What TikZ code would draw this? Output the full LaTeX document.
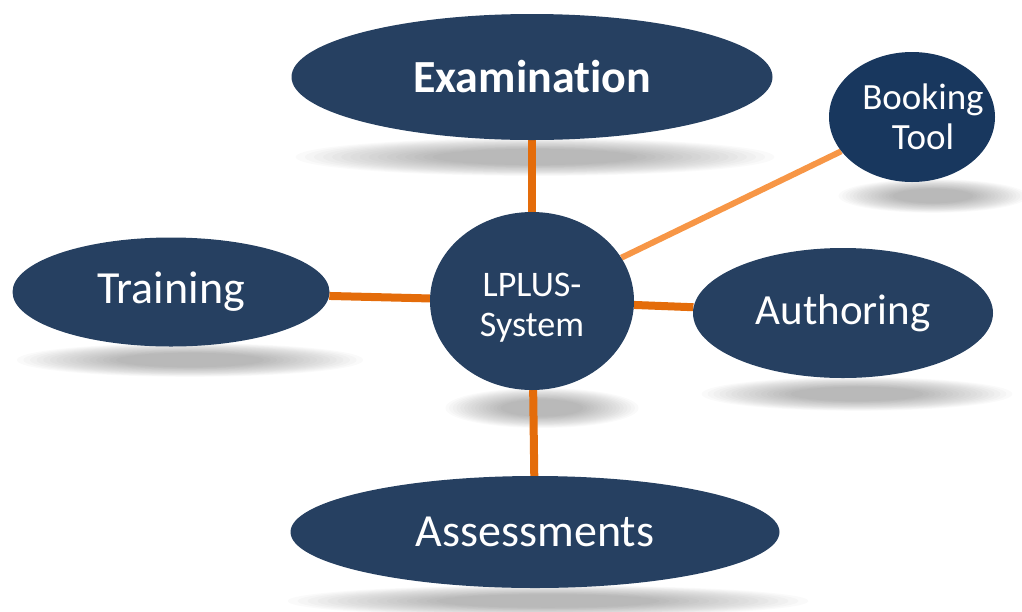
\documentclass[tikz,border=0pt]{standalone}
\usepackage{fontspec}
\setmainfont{Carlito}[RawFeature={-liga;-clig;-calt}]
\pgfdeclarelayer{shadowlayer}
\pgfdeclarelayer{edgelayer}
\pgfsetlayers{shadowlayer,edgelayer,main}
\definecolor{nodeblue}{HTML}{264061}
\definecolor{bookblue}{HTML}{18375E}
\definecolor{edgeorange}{HTML}{E46C0A}
\definecolor{lightorange}{HTML}{F79646}
\newcommand{\softshadow}[4]{%
  \foreach \k in {0,...,15}{%
    \pgfmathsetmacro{\fac}{1.05-0.04*\k}%
    \fill[black, opacity=0.021] (#1pt,#2pt) ellipse [x radius={#3pt*\fac}, y radius={#4pt*\fac}];
  }%
}
\tikzset{
  bubble/.style={ellipse, fill=nodeblue, text=white, inner sep=0pt, align=center},
  link/.style={draw=edgeorange, line width=8pt},
  lightlink/.style={draw=lightorange, line width=6pt},
}
\usetikzlibrary{shapes.geometric}
\begin{document}
\begin{tikzpicture}[x=1pt,y=1pt]
\useasboundingbox (0,0) rectangle (1022,-611);
\begin{pgfonlayer}{shadowlayer}
\softshadow{535}{-157}{228}{18}
\softshadow{933}{-196}{90}{16}
\softshadow{190}{-360}{165}{16}
\softshadow{542}{-408}{92}{19}
\softshadow{857}{-394}{148}{16}
\softshadow{548}{-601}{248}{15}
\end{pgfonlayer}
\node[bubble, minimum width=481pt, minimum height=126pt, font=\fontsize{46}{50}\selectfont\bfseries] (exam) at (532,-77) {Examination};
\node[bubble, fill=bookblue, minimum width=166pt, minimum height=130pt, font=\fontsize{37}{42}\selectfont] (book) at (912,-117) {\makebox[0pt]{\hspace{22pt}Booking}\\[-2pt]\makebox[0pt]{\hspace{22pt}Tool}};
\node[bubble, minimum width=317pt, minimum height=109pt, font=\fontsize{46}{50}\selectfont] (train) at (171,-292) {Training};
\node[bubble, minimum width=204pt, minimum height=178pt, font=\fontsize{36}{40}\selectfont] (lplus) at (532,-301) {\rule{0pt}{36pt}LPLUS-\\System};
\node[bubble, minimum width=300pt, minimum height=130pt, font=\fontsize{43}{48}\selectfont] (auth) at (843,-313) {Authoring};
\node[bubble, minimum width=489pt, minimum height=112pt, font=\fontsize{46}{50}\selectfont] (assess) at (535,-532) {Assessments};
\begin{pgfonlayer}{edgelayer}
\draw[link] (exam) -- (lplus);
\draw[link] (train) -- (lplus);
\draw[link] (lplus) -- (auth);
\draw[link] (lplus) -- (assess);
\draw[lightlink] (lplus) -- (book);
\end{pgfonlayer}
\end{tikzpicture}
\end{document}
